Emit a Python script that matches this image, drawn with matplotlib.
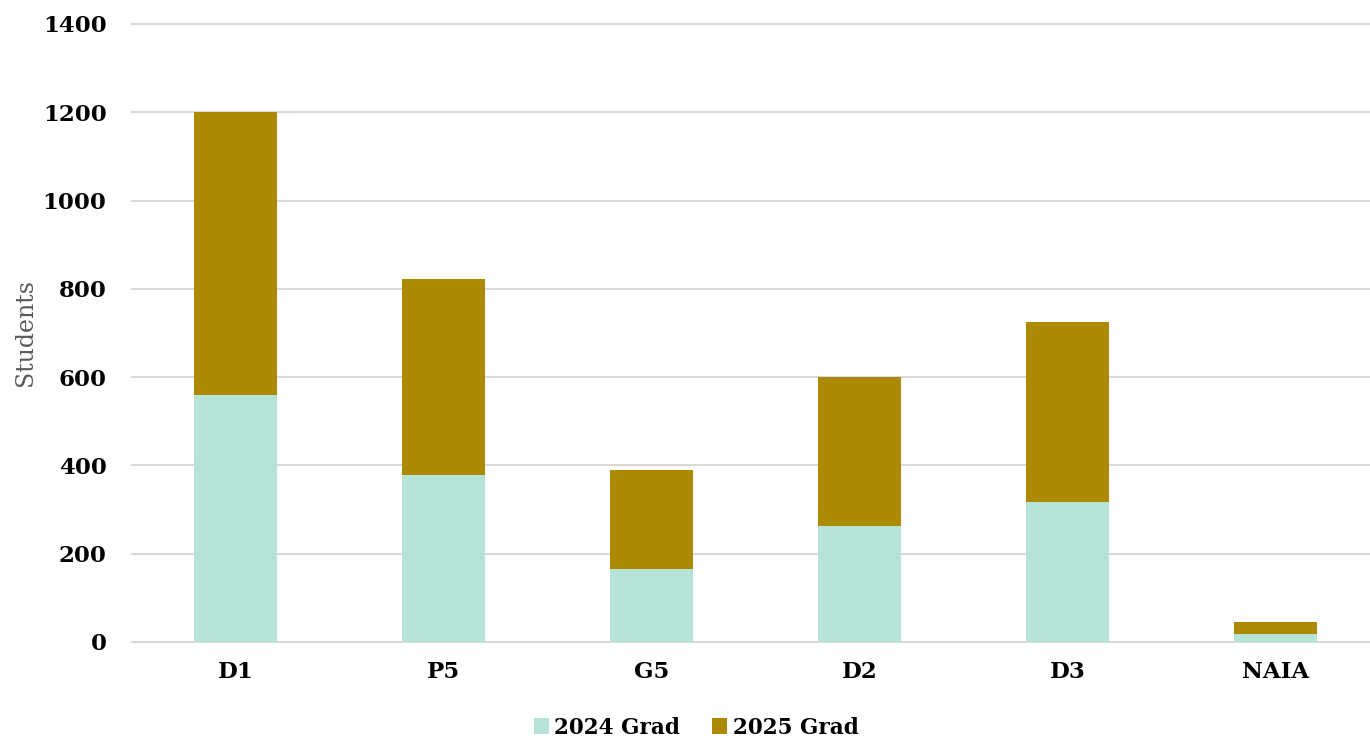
import matplotlib.pyplot as plt
import numpy as np

# students committed by division, stacked by graduating class
divisions = ['D1', 'P5', 'G5', 'D2', 'D3', 'NAIA']
grad_2024 = [560, 378, 165, 263, 317, 19]
grad_2025 = [640, 444, 225, 337, 408, 26]
yticks = [0, 200, 400, 600, 800, 1000, 1200, 1400]

col_2024 = '#B5E3D8'
col_2025 = '#AB8900'

plt.rcParams['font.family'] = ['DejaVu Serif']

fig = plt.figure(figsize=(13.7, 7.38), dpi=100)
ax = fig.add_axes([131.5 / 1370, 96 / 738, 1248 / 1370, 618 / 738])

x = np.arange(len(divisions))
ax.bar(x, grad_2024, width=0.4, color=col_2024, label='2024 Grad', zorder=3)
ax.bar(x, grad_2025, width=0.4, bottom=grad_2024, color=col_2025, label='2025 Grad', zorder=3)

ax.set_xlim(-0.5, len(divisions) - 0.5)
ax.set_ylim(0, 1400)
ax.set_yticks(yticks)
ax.set_xticks(x)
ax.set_xticklabels(divisions)
ax.yaxis.grid(True, color='#D9D9D9', linewidth=1.5, zorder=0)
for gl in ax.get_ygridlines():
    gl.set_clip_on(False)
ax.tick_params(axis='both', length=0, labelsize=16.5)
ax.tick_params(axis='y', pad=18)
ax.tick_params(axis='x', pad=14)
for lbl in ax.get_xticklabels() + ax.get_yticklabels():
    lbl.set_fontweight('bold')
for s in ax.spines.values():
    s.set_visible(False)

ax.set_ylabel('Students', fontsize=17, color='#595959', labelpad=4)

fig.legend(loc='lower center', bbox_to_anchor=(0.508, -0.027), ncol=2, frameon=False,
           handlelength=0.7, handleheight=0.7, handletextpad=0.25, columnspacing=1.5,
           prop={'size': 15.5, 'weight': 'bold'})

fig.savefig('out.png', dpi=100)
